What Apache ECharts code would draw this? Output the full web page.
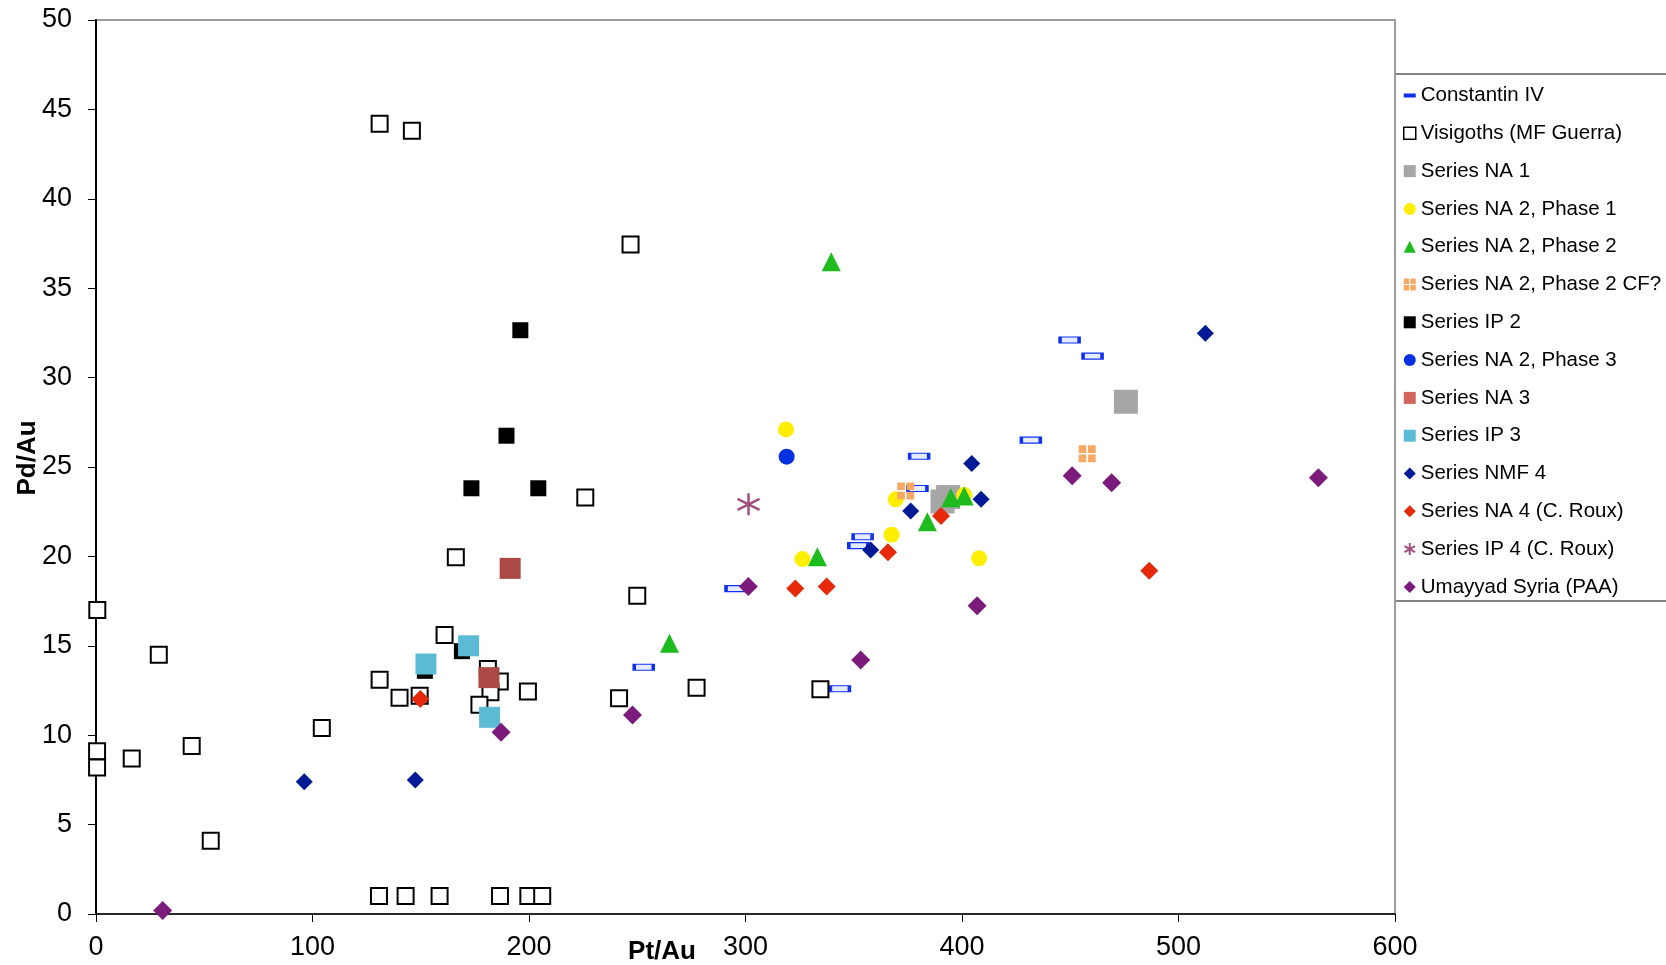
<!DOCTYPE html>
<html>
<head>
<meta charset="utf-8">
<script src="https://cdn.jsdelivr.net/npm/echarts@6/dist/echarts.min.js"></script>
<style>
  html, body { margin: 0; padding: 0; background: #fff; }
  #chart { width: 1666px; height: 965px; }
</style>
</head>
<body>
<div id="chart"></div>
<script>
// Pt/Au (x) vs Pd/Au (y) ratios, one array per group of coins
const constantinIV = [[380.2, 25.6], [379.4, 23.8], [354.1, 21.1], [352.1, 20.6], [295.4, 18.2],
  [253.0, 13.8], [343.6, 12.6], [449.7, 32.1], [460.3, 31.2], [431.8, 26.5]];
const visigoths = [[0.6, 17.0], [29.0, 14.5], [0.5, 9.1], [0.5, 8.2], [16.5, 8.7], [44.2, 9.4],
  [53.0, 4.1], [104.3, 10.4], [131.0, 13.1], [140.2, 12.1], [149.5, 12.2], [161.0, 15.6],
  [181.0, 13.7], [186.5, 13.0], [182.2, 12.4], [177.1, 11.7], [199.5, 12.45],
  [130.7, 1.0], [143.0, 1.0], [158.7, 1.0], [186.6, 1.0], [199.7, 1.0], [206.1, 1.0],
  [131.0, 44.2], [145.9, 43.8], [246.9, 37.45], [226.0, 23.3], [166.2, 19.95], [250.0, 17.8],
  [241.6, 12.06], [277.4, 12.66], [334.6, 12.57]];
const seriesNA1 = [[475.7, 28.65], [391.0, 23.07], [393.6, 23.32]];
const seriesNA2Phase1 = [[318.7, 27.1], [369.4, 23.19], [367.5, 21.21], [326.3, 19.85], [401.0, 23.43], [407.9, 19.89]];
const seriesNA2Phase2 = [[339.6, 36.48], [333.2, 19.98], [384.0, 21.94], [394.8, 23.28], [401.0, 23.38], [264.9, 15.14]];
const seriesNA2Phase2CF = [[374.0, 23.66], [457.8, 25.74]];
const seriesIP2 = [[196.0, 32.65], [189.6, 26.75], [173.4, 23.81], [204.3, 23.81], [151.9, 13.6], [169.0, 14.7]];
const seriesNA2Phase3 = [[319.0, 25.58]];
const seriesNA3 = [[191.3, 19.33], [181.5, 13.22]];
const seriesIP3 = [[152.4, 13.98], [172.1, 15.0], [181.8, 11.0]];
const seriesNMF4 = [[96.2, 7.4], [147.5, 7.49], [357.8, 20.36], [376.3, 22.54], [404.5, 25.19], [408.8, 23.19], [512.4, 32.48]];
const seriesNA4 = [[149.8, 12.02], [323.0, 18.21], [337.5, 18.31], [365.8, 20.23], [390.3, 22.26], [486.5, 19.2]];
const seriesIP4 = [[301.4, 22.91]];
const umayyadSyria = [[30.8, 0.19], [187.1, 10.16], [247.8, 11.13], [301.3, 18.31], [353.2, 14.2],
  [407.0, 17.24], [450.9, 24.51], [469.1, 24.12], [564.6, 24.4]];

const xTicks = { min: 0, max: 600, interval: 100 };
const yTicks = { min: 0, max: 50, interval: 5 };
const xTitle = 'Pt/Au';
const yTitle = 'Pd/Au';

const FONT = '"Liberation Sans", Arial, sans-serif';

// Marker shapes
const PLUS_SQUARE = 'path://M0,0h9v9h-9zM11,0h9v9h-9zM0,11h9v9h-9zM11,11h9v9h-9z';
const ASTERISK = 'path://M10,0L10,20M1.3,5L18.7,15M1.3,15L18.7,5';
const DASH_ICON = 'path://M0,0M0,4h12v4h-12zM12,12';

function scatter(name, data, symbol, size, itemStyle) {
  itemStyle.opacity = 1;
  return {
    name: name,
    type: 'scatter',
    data: data,
    symbol: symbol,
    symbolSize: size,
    itemStyle: itemStyle,
    emphasis: { disabled: true },
    animation: false
  };
}

const series = [
  scatter('Constantin IV', constantinIV, 'rect', [19, 6], { color: '#e6ecff', borderColor: '#0f30ee', borderWidth: 2 }),
  scatter('Visigoths (MF Guerra)', visigoths, 'rect', 16, { color: '#ffffff', borderColor: '#000000', borderWidth: 2 }),
  scatter('Series NA 1', seriesNA1, 'rect', 24, { color: '#a6a6a6' }),
  scatter('Series NA 2, Phase 1', seriesNA2Phase1, 'circle', 16, { color: '#ffee00' }),
  scatter('Series NA 2, Phase 2', seriesNA2Phase2, 'triangle', 19, { color: '#1dbb1d' }),
  scatter('Series NA 2, Phase 2 CF?', seriesNA2Phase2CF, PLUS_SQUARE, 17, { color: '#f9a862' }),
  scatter('Series IP 2', seriesIP2, 'rect', 16, { color: '#000000' }),
  scatter('Series NA 2, Phase 3', seriesNA2Phase3, 'circle', 16, { color: '#0330e0' }),
  scatter('Series NA 3', seriesNA3, 'rect', 21, { color: '#ab4a44' }),
  scatter('Series IP 3', seriesIP3, 'rect', 21, { color: '#5bbbd4' }),
  scatter('Series NMF 4', seriesNMF4, 'diamond', 17, { color: '#011a96' }),
  scatter('Series NA 4 (C. Roux)', seriesNA4, 'diamond', 18, { color: '#e5290a' }),
  scatter('Series IP 4 (C. Roux)', seriesIP4, ASTERISK, 22, { color: 'rgba(0,0,0,0)', borderColor: '#a2507f', borderWidth: 2.5 }),
  scatter('Umayyad Syria (PAA)', umayyadSyria, 'diamond', 19, { color: '#7b1b7b' })
];

const legendIcons = {
  'Constantin IV': { icon: DASH_ICON, itemStyle: { color: '#0f30ee', borderWidth: 0, opacity: 1 } },
  'Visigoths (MF Guerra)': { icon: 'rect', itemStyle: { color: '#ffffff', borderColor: '#000000', borderWidth: 1.5, opacity: 1 } },
  'Series NA 3': { icon: 'rect', itemStyle: { color: '#d2665e', opacity: 1 } },
  'Series IP 4 (C. Roux)': { icon: ASTERISK, itemStyle: { color: 'rgba(0,0,0,0)', borderColor: '#a2507f', borderWidth: 2, opacity: 1 } }
};

const legendData = series.map(function (s) {
  const extra = legendIcons[s.name] || {};
  return {
    name: s.name,
    icon: extra.icon || s.symbol,
    itemStyle: extra.itemStyle || { opacity: 1 }
  };
});

const chart = echarts.init(document.getElementById('chart'), null, { renderer: 'canvas' });

chart.setOption({
  backgroundColor: '#ffffff',
  animation: false,
  textStyle: { fontFamily: FONT },
  grid: {
    left: 96, right: 271, top: 20, bottom: 51,
    show: true, borderColor: '#9c9c9c', borderWidth: 2, backgroundColor: 'transparent'
  },
  xAxis: {
    type: 'value',
    min: xTicks.min, max: xTicks.max, interval: xTicks.interval,
    axisLine: { show: true, onZero: false, lineStyle: { color: '#000', width: 1.5 } },
    axisTick: { show: true, inside: false, length: 8, lineStyle: { color: '#000', width: 1 } },
    axisLabel: { color: '#000', fontSize: 27, fontFamily: FONT, margin: 20 },
    splitLine: { show: false }
  },
  yAxis: {
    type: 'value',
    min: yTicks.min, max: yTicks.max, interval: yTicks.interval,
    axisLine: { show: true, onZero: false, lineStyle: { color: '#000', width: 2 } },
    axisTick: { show: true, inside: false, length: 8, lineStyle: { color: '#000', width: 1 } },
    axisLabel: { color: '#000', fontSize: 27, fontFamily: FONT, margin: 24 },
    splitLine: { show: false }
  },
  legend: {
    orient: 'vertical',
    left: 1403,
    top: 85,
    padding: 0,
    itemWidth: 12,
    itemHeight: 12,
    itemGap: 16.8,
    selectedMode: false,
    textStyle: { color: '#000', fontSize: 20.5, fontFamily: FONT, lineHeight: 21, padding: [0, 0, 0, 0] },
    data: legendData
  },
  graphic: [
    {
      type: 'rect',
      z: -10,
      shape: { x: 1395, y: 74, width: 320, height: 527 },
      style: { fill: '#ffffff', stroke: '#5a5a5a', lineWidth: 1.5 }
    },
    {
      type: 'text',
      x: 662, y: 952,
      style: {
        text: xTitle, fill: '#000', align: 'center', verticalAlign: 'middle',
        font: 'bold 26px ' + FONT
      }
    },
    {
      type: 'text',
      x: 28, y: 458,
      rotation: Math.PI / 2,
      style: {
        text: yTitle, fill: '#000', align: 'center', verticalAlign: 'middle',
        font: 'bold 26px ' + FONT
      }
    }
  ],
  series: series
});
</script>
</body>
</html>
